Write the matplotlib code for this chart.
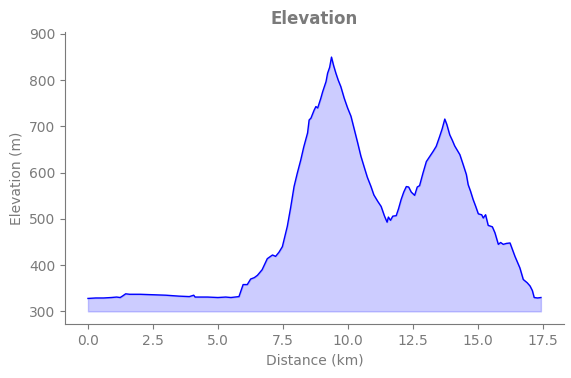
#!/usr/bin/env python3

import matplotlib.pyplot as plt
import numpy as np

distance_km = [
    0.0, 0.3, 0.6, 0.9, 1.1, 1.24, 1.35, 1.45, 1.6, 2.0, 2.5, 3.0, 3.5, 3.9,
    4.07, 4.12, 4.2, 4.6, 5.0, 5.3, 5.5, 5.81, 5.97, 6.13, 6.26, 6.4, 6.52,
    6.7, 6.9, 7.0, 7.1, 7.22, 7.35, 7.48, 7.67, 7.8, 7.93, 8.05, 8.19, 8.3,
    8.45, 8.51, 8.58, 8.7, 8.77, 8.84, 8.96, 9.03, 9.16, 9.22, 9.3, 9.37,
    9.45, 9.54, 9.63, 9.73, 9.86, 9.99, 10.12, 10.25, 10.38, 10.5, 10.64,
    10.75, 10.89, 11.0, 11.15, 11.28, 11.41, 11.51, 11.56, 11.64, 11.73,
    11.86, 11.95, 12.05, 12.15, 12.25, 12.34, 12.44, 12.57, 12.67, 12.76,
    12.89, 13.02, 13.15, 13.28, 13.4, 13.53, 13.63, 13.73, 13.81, 13.92,
    14.02, 14.11, 14.31, 14.44, 14.56, 14.63, 14.72, 14.82, 14.92, 15.02,
    15.15, 15.21, 15.3, 15.4, 15.56, 15.66, 15.79, 15.88, 15.98, 16.1,
    16.24, 16.43, 16.62, 16.75, 16.9, 17.01, 17.1, 17.17, 17.3, 17.43,
]
elevation_m = [
    328, 329, 329, 330, 331, 330, 334, 338, 337, 337, 336, 335, 333, 332,
    335, 331, 331, 331, 330, 331, 330, 332, 358, 358, 370, 373, 378,
    390, 414, 418, 422, 419, 428, 440, 484, 525, 570, 598, 628, 655,
    686, 714, 718, 735, 743, 740, 761, 775, 797, 815, 828, 850,
    832, 815, 800, 786, 761, 740, 722, 693, 664, 636, 610,
    590, 570, 552, 538, 527, 506, 493, 504, 497, 506,
    507, 522, 542, 558, 570, 569, 558, 551, 569, 572,
    599, 624, 635, 646, 657, 678, 695, 716, 704, 682,
    670, 658, 639, 617, 596, 574, 560, 542, 527, 511,
    509, 502, 509, 486, 483, 470, 445, 449, 445, 447,
    448, 419, 394, 369, 362, 355, 345, 330, 329, 330,
]
base_m = 300

grey = '#7a7a7a'


def main() -> None:
    x = np.array(distance_km)
    y = np.array(elevation_m)

    fig, ax = plt.subplots(figsize=(5.71, 3.78), dpi=100)
    fig.subplots_adjust(left=0.1144, right=0.987, bottom=0.142, top=0.915)

    ax.fill_between(x, y, base_m, color='blue', alpha=0.2)
    ax.plot(x, y, color='blue', linewidth=1)

    ax.set_ylim(272, 904)
    ax.set_xticks(np.arange(0, 17.6, 2.5))
    ax.set_yticks(np.arange(300, 901, 100))

    ax.set_title('Elevation', color=grey, fontweight='bold', fontsize=12)
    ax.set_xlabel('Distance (km)', color=grey)
    ax.set_ylabel('Elevation (m)', color=grey)

    for side in ('top', 'right'):
        ax.spines[side].set_visible(False)
    for side in ('left', 'bottom'):
        ax.spines[side].set_color(grey)
    ax.tick_params(colors=grey, labelcolor=grey)

    fig.savefig('out.png')


if __name__ == '__main__':
    main()
